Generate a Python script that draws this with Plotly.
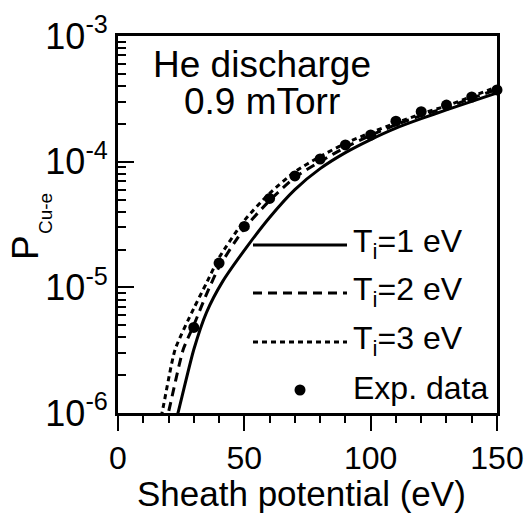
import plotly.graph_objects as go

# ---- data ----
X_T1 = [22, 24, 30, 35, 41.5, 51, 60, 70, 80, 90, 100, 110, 120, 130, 140, 150]
Y_T1 = [7.3e-7, 1.05e-6, 3.2e-6, 6.3e-6, 1.12e-5, 2.1e-5, 3.6e-5, 6.0e-5, 8.8e-5,
        1.18e-4, 1.5e-4, 1.85e-4, 2.2e-4, 2.58e-4, 3.02e-4, 3.52e-4]

X_T2 = [18.5, 19.9, 25.8, 30, 35, 40, 50, 60, 70, 80, 90, 100, 110, 120, 130, 140, 150]
Y_T2 = [8e-7, 1e-6, 3.2e-6, 5.0e-6, 8.8e-6, 1.45e-5, 2.95e-5, 4.9e-5, 7.5e-5, 1.0e-4,
        1.3e-4, 1.62e-4, 1.97e-4, 2.33e-4, 2.7e-4, 3.2e-4, 3.75e-4]

X_T3 = [16, 17.4, 22.6, 30, 35, 40, 50, 60, 70, 80, 90, 100, 110, 120, 130, 140, 150]
Y_T3 = [8e-7, 1e-6, 3.2e-6, 6.8e-6, 1.08e-5, 1.72e-5, 3.4e-5, 5.6e-5, 8.3e-5, 1.1e-4,
        1.4e-4, 1.7e-4, 2.03e-4, 2.4e-4, 2.78e-4, 3.3e-4, 3.93e-4]

EXP_X = [30, 40, 50, 60, 70, 80, 90, 100, 110, 120, 130, 140, 150]
EXP_Y = [4.8e-6, 1.56e-5, 3.05e-5, 5.1e-5, 7.7e-5, 1.05e-4, 1.36e-4, 1.63e-4,
         2.1e-4, 2.5e-4, 2.82e-4, 3.27e-4, 3.72e-4]

X_TICKS = [0, 50, 100, 150]
Y_TICKVALS = [1e-6, 1e-5, 1e-4, 1e-3]
Y_TICKTEXT = ["10<sup>-6</sup>", "10<sup>-5</sup>", "10<sup>-4</sup>", "10<sup>-3</sup>"]

LEGEND_LABELS = ["T<sub>i</sub>=1 eV", "T<sub>i</sub>=2 eV", "T<sub>i</sub>=3 eV", "Exp. data"]
TITLE_LINES = ["He discharge", "0.9 mTorr"]
X_TITLE = "Sheath potential (eV)"

FONT = "Liberation Sans, Arial, Helvetica, sans-serif"
BLACK = "black"

fig = go.Figure()
fig.add_trace(go.Scatter(x=X_T1, y=Y_T1, mode="lines", line=dict(color=BLACK, width=3, shape="spline", smoothing=0.6)))
fig.add_trace(go.Scatter(x=X_T2, y=Y_T2, mode="lines", line=dict(color=BLACK, width=3, dash="9px,6px", shape="spline", smoothing=0.6)))
fig.add_trace(go.Scatter(x=X_T3, y=Y_T3, mode="lines", line=dict(color=BLACK, width=3, dash="5px,4px", shape="spline", smoothing=0.6)))
fig.add_trace(go.Scatter(x=EXP_X, y=EXP_Y, mode="markers", marker=dict(color=BLACK, size=11), cliponaxis=False))

W, H = 529, 514
L, R, T, B = 118, 32, 36, 101
pw, ph = W - L - R, H - T - B

def px(xp):
    return (xp - L) / pw

def py(yp):
    return (H - B - yp) / ph

shapes = []
annotations = []
dashes = ["solid", "9px,6px", "5px,4px"]
rows = [245, 293, 342, 390]
for i in range(3):
    shapes.append(dict(type="line", xref="paper", yref="paper",
                       x0=px(253), x1=px(347), y0=py(rows[i]), y1=py(rows[i]),
                       line=dict(color=BLACK, width=3, dash=dashes[i])))
shapes.append(dict(type="circle", xref="paper", yref="paper",
                   xsizemode="pixel", ysizemode="pixel",
                   xanchor=px(300), yanchor=py(rows[3]),
                   x0=-5.5, x1=5.5, y0=-5.5, y1=5.5,
                   fillcolor=BLACK, line=dict(color=BLACK, width=0)))
for i, lab in enumerate(LEGEND_LABELS):
    annotations.append(dict(xref="paper", yref="paper", x=px(351), y=py(rows[i] - 2),
                            text=lab, showarrow=False, xanchor="left", yanchor="middle",
                            font=dict(family=FONT, size=32, color=BLACK)))

for txt, yc in zip(TITLE_LINES, [64, 102]):
    annotations.append(dict(xref="paper", yref="paper", x=px(262), y=py(yc),
                            text=txt, showarrow=False, xanchor="center", yanchor="middle",
                            font=dict(family=FONT, size=37, color=BLACK)))

# x-axis title
annotations.append(dict(xref="paper", yref="paper", x=px(301), y=py(493), text=X_TITLE,
                        showarrow=False, xanchor="center", yanchor="middle",
                        font=dict(family=FONT, size=35, color=BLACK)))

# y-axis title: "P" with a small, strongly lowered subscript
annotations.append(dict(xref="paper", yref="paper", x=px(25), y=py(248), text="P",
                        textangle=-90, showarrow=False, xanchor="center", yanchor="middle",
                        font=dict(family=FONT, size=37, color=BLACK)))
annotations.append(dict(xref="paper", yref="paper", x=px(45), y=py(214), text="Cu-e",
                        textangle=-90, showarrow=False, xanchor="center", yanchor="middle",
                        font=dict(family=FONT, size=19, color=BLACK)))

fig.update_layout(
    width=W, height=H,
    margin=dict(l=L, r=R, t=T, b=B, autoexpand=False),
    paper_bgcolor="white", plot_bgcolor="white",
    showlegend=False,
    font=dict(family=FONT, color=BLACK),
    shapes=shapes, annotations=annotations,
)
fig.update_xaxes(
    range=[0, 150], tickvals=X_TICKS, ticks="outside", ticklen=15, tickwidth=2,
    tickcolor=BLACK, showline=True, linewidth=3, linecolor=BLACK, mirror=True,
    showgrid=False, zeroline=False, automargin=False,
    tickfont=dict(family=FONT, size=32, color=BLACK),
    minor=dict(dtick=10, ticks="outside", ticklen=7, tickwidth=2, tickcolor=BLACK, showgrid=False),
)
fig.update_yaxes(
    type="log", range=[-6, -3], tickvals=Y_TICKVALS, ticktext=Y_TICKTEXT,
    ticks="inside", ticklen=16, tickwidth=2, tickcolor=BLACK,
    showline=True, linewidth=3, linecolor=BLACK, mirror=True,
    showgrid=False, zeroline=False, automargin=False,
    tickfont=dict(family=FONT, size=36, color=BLACK),
    minor=dict(dtick="D1", ticks="inside", ticklen=8, tickwidth=2, tickcolor=BLACK, showgrid=False),
)

fig.write_html("out.html")
